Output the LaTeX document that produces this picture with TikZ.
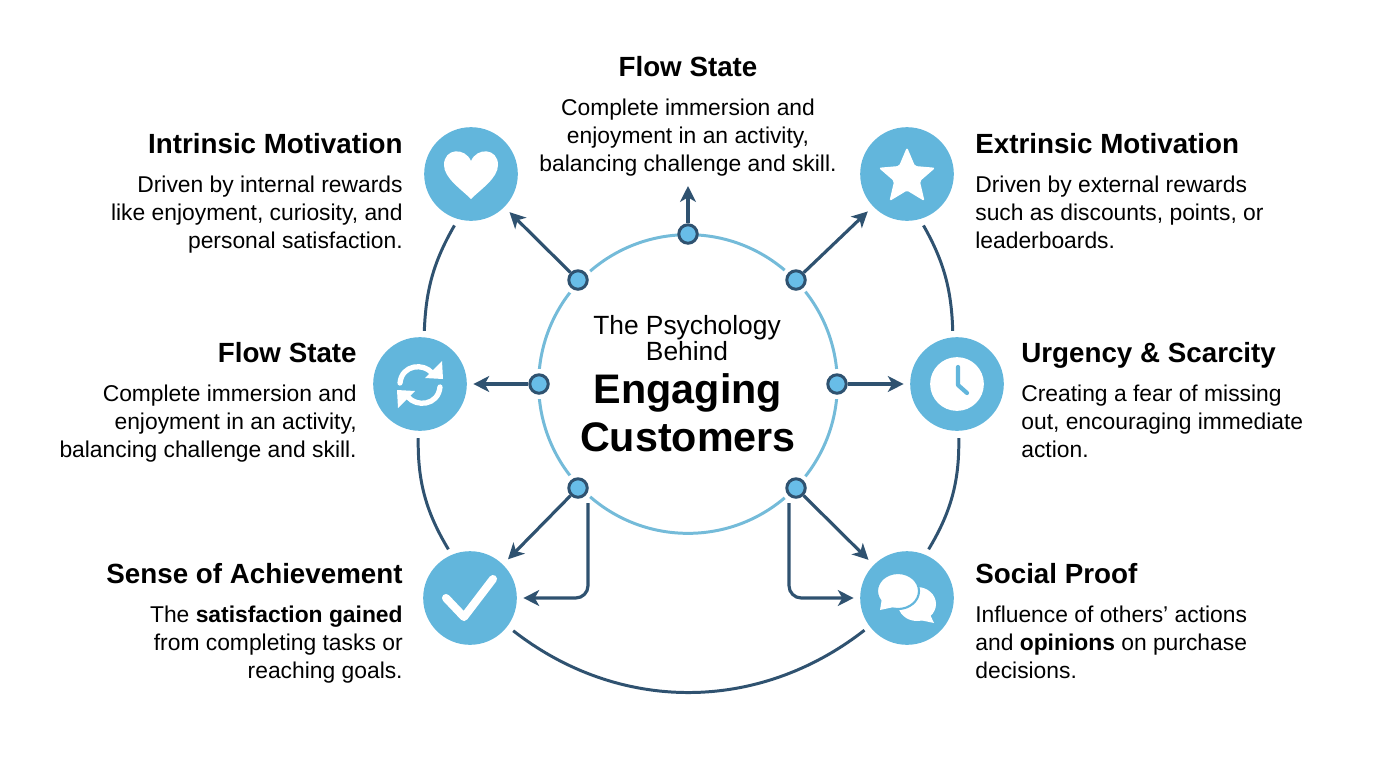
\documentclass[tikz,border=0pt]{standalone}
\usepackage{fontspec}
\setmainfont{Liberation Sans}
\usetikzlibrary{arrows.meta,shapes.geometric}
\definecolor{iconblue}{HTML}{62B6DC}
\definecolor{ringblue}{HTML}{74BBD9}
\definecolor{dotblue}{HTML}{68BDE8}
\definecolor{linkdark}{HTML}{2F5270}
\tikzset{
	iconnode/.style={circle, fill=iconblue, minimum size=53.3pt, inner sep=0pt},
	dotnode/.style={circle, draw=linkdark, fill=dotblue, line width=1.7pt, minimum size=10.5pt, inner sep=0pt},
	titlenode/.style={inner sep=0pt, font=\fontsize{15.8}{18}\selectfont\bfseries},
	bodynode/.style={inner sep=0pt, font=\fontsize{13}{15.9}\selectfont},
	outerlink/.style={draw=linkdark, line width=1.7pt, shorten <=4pt, shorten >=3.5pt},
	flowlink/.style={draw=linkdark, line width=1.8pt, -{Stealth[length=9pt,width=9pt,inset=2.5pt]}},
	iconline/.style={draw=white, line cap=round, line join=round}
}
\begin{document}
\begin{tikzpicture}[x=0.02cm,y=-0.02cm]
		\useasboundingbox (0,0) rectangle (1376,768);
		
		%Rappresento il cerchio centrale
		\node (ring) at (688,384) [draw=ringblue, line width=1.7pt, circle, minimum size=170pt]{};
		\node (psychology) at (687,338) [inner sep=0pt, align=center, font=\fontsize{15}{15}\selectfont]{The Psychology\\Behind};
		\node (engaging) at (688,393) [inner sep=0pt, font=\fontsize{23.5}{26}\selectfont\bfseries]{Engaging};
		\node (customers) at (688,437) [inner sep=0pt, font=\fontsize{23.5}{26}\selectfont\bfseries]{Customers};
		
		%Icons
		\node (heart) at (471,174) [iconnode]{};
		\node (star) at (907,174) [iconnode]{};
		\node (refresh) at (420,384) [iconnode]{};
		\node (clock) at (957,384) [iconnode]{};
		\node (check) at (470,598) [iconnode]{};
		\node (bubbles) at (907,598) [iconnode]{};
		
		%Small dots on the ring
		\node (dotTop) at (688,234) [dotnode]{};
		\foreach \nm/\px/\py in {dotUL/578/280, dotUR/796/280, dotL/539/384, dotR/837/384, dotLL/578/488, dotLR/796/488}{
			\fill[white] (\px,\py) circle (8.5pt);
			\node (\nm) at (\px,\py) [dotnode]{};
		}
		
		%Free ends
		\coordinate (flowTip) at (688,186);
		\coordinate (elbowL) at (588,503);
		\coordinate (elbowR) at (789,503);
		
		%Texts
		\node (flowTitle) at (688,76) [titlenode, anchor=base]{Flow State};
		\node (flowBody) at (688,98.5) [bodynode, anchor=north, align=center]{Complete immersion and\\enjoyment in an activity,\\balancing challenge and skill.};
		\node (intrinsicTitle) at (403,153) [titlenode, anchor=base east]{Intrinsic Motivation};
		\node (intrinsicBody) at (403,175.5) [bodynode, anchor=north east, align=right]{Driven by internal rewards\\like enjoyment, curiosity, and\\personal satisfaction.};
		\node (extrinsicTitle) at (975,153) [titlenode, anchor=base west]{Extrinsic Motivation};
		\node (extrinsicBody) at (975,175.5) [bodynode, anchor=north west, align=left]{Driven by external rewards\\such as discounts, points, or\\leaderboards.};
		\node (stateTitle) at (357,362) [titlenode, anchor=base east]{Flow State};
		\node (stateBody) at (357,385) [bodynode, anchor=north east, align=right]{Complete immersion and\\enjoyment in an activity,\\balancing challenge and skill.};
		\node (urgencyTitle) at (1021,362) [titlenode, anchor=base west]{Urgency \& Scarcity};
		\node (urgencyBody) at (1021,385) [bodynode, anchor=north west, align=left]{Creating a fear of missing\\out, encouraging immediate\\action.};
		\node (senseTitle) at (403,583) [titlenode, anchor=base east]{Sense of Achievement};
		\node (senseBody) at (403,606) [bodynode, anchor=north east, align=right]{The \textbf{satisfaction gained}\\from completing tasks or\\reaching goals.};
		\node (socialTitle) at (975,583) [titlenode, anchor=base west]{Social Proof};
		\node (socialBody) at (975,606) [bodynode, anchor=north west, align=left]{Influence of others' actions\\and \textbf{opinions} on purchase\\decisions.};
		
		%Links
		\draw[flowlink] (dotTop) -- (flowTip);
		\draw[flowlink, shorten >=4pt] (dotUL) -- (heart);
		\draw[flowlink, shorten >=4pt] (dotUR) -- (star);
		\draw[flowlink, shorten >=3.5pt] (dotL) -- (refresh);
		\draw[flowlink, shorten >=3.5pt] (dotR) -- (clock);
		\draw[flowlink, shorten >=4pt] (dotLL) -- (check);
		\draw[flowlink, shorten >=4pt] (dotLR) -- (bubbles);
		\draw[flowlink, shorten >=3.5pt, rounded corners=7pt] (elbowL) |- (check);
		\draw[flowlink, shorten >=3.5pt, rounded corners=7pt] (elbowR) |- (bubbles);
		
		%Outer arcs
		\draw[outerlink] (heart.254) to[bend right=14] (refresh.85);
		\draw[outerlink] (refresh.268) to[bend right=16] (check.113);
		\draw[outerlink] (check.-37) to[bend right=38] (bubbles.217);
		\draw[outerlink] (star.286) to[bend left=14] (clock.95);
		\draw[outerlink] (clock.272) to[bend left=16] (bubbles.67);
		
		%Heart
		\begin{scope}[shift={(471,174)}]
			\fill[white] (0,25) .. controls (-10,15) and (-27,4) .. (-27,-9) .. controls (-27,-26) and (-6,-27) .. (0,-13) .. controls (6,-27) and (27,-26) .. (27,-9) .. controls (27,4) and (10,15) .. (0,25) -- cycle;
		\end{scope}
		
		%Star
		\node (starIcon) at (907,177) [star, star points=5, star point ratio=2.2, fill=white, minimum size=34pt, inner sep=0pt, rounded corners=1pt]{};
		
		%Refresh
		\begin{scope}[shift={(420,384)}]
			\draw[iconline, line width=3pt] (-20,-1) .. controls (-18,-20) and (4,-21) .. (12,-11);
			\fill[white] (22,-23) -- (23,-5) -- (5,-6) -- cycle;
			\draw[iconline, line width=3pt] (20,3) .. controls (18,22) and (-4,23) .. (-12,13);
			\fill[white] (-22,24) -- (-23,6) -- (-5,7) -- cycle;
		\end{scope}
		
		%Clock
		\node (clockFace) at (957,384) [circle, fill=white, minimum size=30.6pt, inner sep=0pt]{};
		\draw[draw=iconblue, line width=2.4pt, line cap=round, line join=round] (958,367) -- (958,385) -- (967,393);
		
		%Check
		\draw[iconline, line width=4.6pt] (446,598) -- (464,617) -- (493,579);
		
		%Chat bubbles
		\begin{scope}[shift={(907,598)}]
			\fill[white] (10,6) ellipse [x radius=19, y radius=17];
			\fill[white] (19,8) -- (27,25) -- (8,21) -- cycle;
			\draw[draw=iconblue, fill=white, line width=1.2pt] (-9,-7) ellipse [x radius=21, y radius=18];
			\fill[white] (-25,0) -- (-27,12) -- (-13,9) -- cycle;
		\end{scope}
\end{tikzpicture}
\end{document}
